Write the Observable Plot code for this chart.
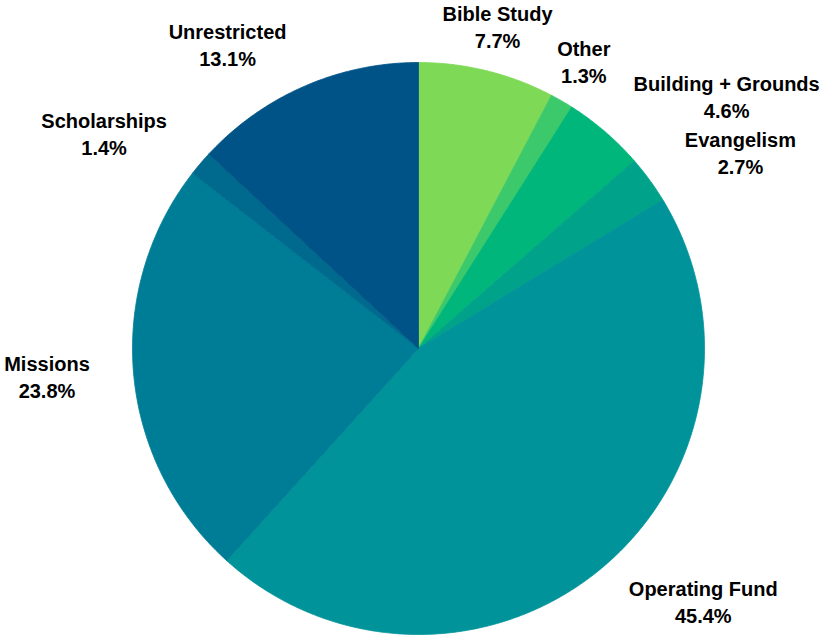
<!DOCTYPE html>
<html>
<head>
<meta charset="utf-8">
<script src="https://cdn.jsdelivr.net/npm/d3@7"></script>
<script src="https://cdn.jsdelivr.net/npm/@observablehq/plot@0.6"></script>
<style>
  html, body { margin: 0; padding: 0; background: #fff; }
  #chart svg { display: block; }
</style>
</head>
<body>
<div id="chart"></div>
<script>
// Data (clockwise from 12 o'clock)
const categories = ["Bible Study", "Other", "Building + Grounds", "Evangelism", "Operating Fund", "Missions", "Scholarships", "Unrestricted"];
const shares = [7.7, 1.3, 4.6, 2.7, 45.4, 23.8, 1.4, 13.1];
const labels = ["7.7%", "1.3%", "4.6%", "2.7%", "45.4%", "23.8%", "1.4%", "13.1%"];
const colors = ["#7ed957", "#3cc96c", "#00b67a", "#00a38a", "#009399", "#007d96", "#006a8e", "#005386"];

const W = 827, H = 636;
const cx = 418, cy = 348, R = 286;   // pie centre and radius in px
const labelR = 330 / R;              // label anchor radius (in radius units)
const font = "bold 20px 'Liberation Sans', Arial, sans-serif";

const pie = d3.pie().sort(null).value(d => d.value)(
  categories.map((c, i) => ({ name: c, value: shares[i], label: labels[i] }))
);

// slice polygons in unit-radius coordinates (x right, y up)
const poly = [];
for (const a of pie) {
  const n = Math.max(2, Math.ceil((a.endAngle - a.startAngle) / (Math.PI / 360)));
  poly.push({ name: a.data.name, x: 0, y: 0 });
  for (let k = 0; k <= n; k++) {
    const t = a.startAngle + (a.endAngle - a.startAngle) * k / n;
    poly.push({ name: a.data.name, x: Math.sin(t), y: Math.cos(t) });
  }
  poly.push({ name: a.data.name, x: 0, y: 0 });
}

// label positions
const ctx = document.createElement("canvas").getContext("2d");
ctx.font = font;
const lab = pie.map(a => {
  const m = (a.startAngle + a.endAngle) / 2;
  const s = Math.sin(m), c = Math.cos(m);
  const w = Math.max(ctx.measureText(a.data.name).width, ctx.measureText(a.data.label).width) / R;
  let x = labelR * s;
  if (s > 0.55) x += w / 2;
  else if (s < -0.3) x -= w / 2;
  return { text: a.data.name + "\n" + a.data.label, x, y: labelR * c };
});

const chart = Plot.plot({
  width: W,
  height: H,
  margin: 0,
  x: { domain: [-cx / R, (W - cx) / R], axis: null },
  y: { domain: [-(H - cy) / R, cy / R], axis: null },
  color: { domain: categories, range: colors },
  marks: [
    Plot.line(poly, { x: "x", y: "y", z: "name", fill: "name", stroke: "name", strokeWidth: 0.8, curve: "linear" }),
    Plot.text(lab, {
      x: "x", y: "y", text: "text",
      textAnchor: "middle", lineAnchor: "middle", lineHeight: 1.35, dy: -2,
      fontSize: 20, fontWeight: "bold", fill: "#000",
      fontFamily: "'Liberation Sans', Arial, sans-serif"
    })
  ],
  style: { background: "#fff", overflow: "visible" }
});
document.getElementById("chart").appendChild(chart);
</script>
</body>
</html>
